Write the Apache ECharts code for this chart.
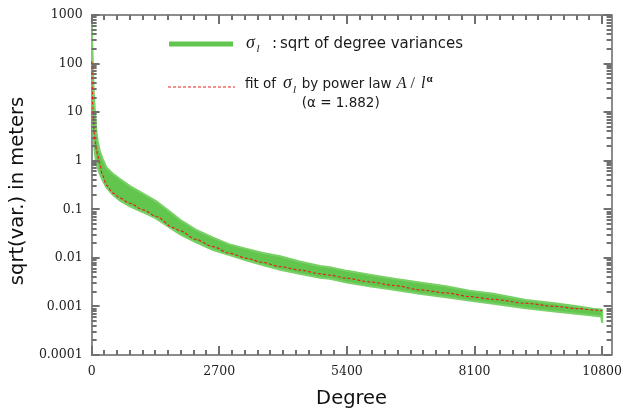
<!DOCTYPE html>
<html>
<head>
<meta charset="utf-8">
<script src="https://cdn.jsdelivr.net/npm/echarts@6/dist/echarts.min.js"></script>
<style>html,body{margin:0;padding:0;background:#fff}#c{width:625px;height:417px}</style>
</head>
<body>
<div id="c"></div>
<script>
// ---- data ----
const degrees = [2, 10, 25, 45, 70, 100, 130, 170, 230, 316, 450, 600, 810, 1090, 1370, 1720, 1880, 2200, 2570, 2900, 3280, 3600, 3990, 4400, 4830, 5040, 5400, 5880, 6400, 6940, 7500, 7990, 8500, 9190, 9800, 10300, 10600, 10780, 10800];
const fitValues = [110, 40, 12, 4.5, 2.5, 1.7, 1.25, 0.88, 0.5, 0.31, 0.215, 0.17, 0.133, 0.097, 0.071, 0.042, 0.036, 0.024, 0.017, 0.0125, 0.0098, 0.0081, 0.0066, 0.0056, 0.0047, 0.0044, 0.0038, 0.0032, 0.0027, 0.0022, 0.0019, 0.0016, 0.0014, 0.00116, 0.001, 0.0009, 0.00085, 0.00082, 0.00081];
const sigmaUpper = [700, 300, 100, 25, 10, 4, 2.5, 1.6, 1.1, 0.72, 0.54, 0.42, 0.3, 0.21, 0.145, 0.08, 0.06, 0.038, 0.026, 0.0192, 0.0153, 0.0128, 0.0108, 0.0084, 0.0068, 0.0064, 0.0054, 0.0045, 0.0037, 0.0031, 0.0026, 0.0021, 0.00182, 0.00136, 0.00116, 0.001, 0.0009, 0.00087, 0.00085];
const sigmaLower = [150, 30, 6, 2.5, 1.4, 0.9, 0.7, 0.55, 0.4, 0.28, 0.2, 0.15, 0.115, 0.087, 0.064, 0.038, 0.03, 0.021, 0.0145, 0.0115, 0.0088, 0.0072, 0.0057, 0.0047, 0.0039, 0.0037, 0.0031, 0.0026, 0.0022, 0.00182, 0.00154, 0.00132, 0.00114, 0.00092, 0.00079, 0.0007, 0.00065, 0.00062, 0.00046];
const xTickLabels = ['0', '2700', '5400', '8100', '10800'];
const xMajorTicks = [0, 2700, 5400, 8100, 10800];
const xMinorTicks = [];
for (let v = 270; v < 10800; v += 270) { if (v % 2700 !== 0) xMinorTicks.push(v); }
const yTickLabels = ['0.0001', '0.001', '0.01', '0.1', '1', '10', '100', '1000'];
const yMajorTicks = [0.0001, 0.001, 0.01, 0.1, 1, 10, 100, 1000];
const yMinorTicks = [];
for (let e = -4; e < 3; e++) { for (let m = 2; m <= 9; m++) yMinorTicks.push(+(m * Math.pow(10, e)).toPrecision(3)); }

const X_MIN = 0, X_MAX = 11000, Y_MIN = 0.0001, Y_MAX = 1000;
const GREEN = '#62c64e';
const RED = '#e4241c';
const AXC = '#666666';
const TICKC = '#707070';

function yLabel(v) {
  const i = Math.round(Math.log10(v)) + 4;
  return yTickLabels[i] !== undefined ? yTickLabels[i] : '';
}
function xLabel(v) {
  const i = xMajorTicks.indexOf(v);
  return i >= 0 ? xTickLabels[i] : '';
}

const bandData = degrees.map((d, i) => [d, sigmaUpper[i], sigmaLower[i]]);
const fitData = degrees.map((d, i) => [d, fitValues[i]]);
const xTickData = xMajorTicks.map(v => [v, 1, 9]).concat(xMinorTicks.map(v => [v, 1, 5]));
const yTickData = yMajorTicks.map(v => [100, v, 8]).concat(yMinorTicks.map(v => [100, v, 5]));

function txt(x, y, text, font, size, opts) {
  return {
    type: 'text', x: x, y: y, silent: true,
    style: Object.assign({ text: text, fontFamily: font, fontSize: size, fill: '#1a1a1a', align: 'left', verticalAlign: 'middle' }, opts || {})
  };
}
function tickLine(x1, y1, x2, y2) {
  return { type: 'line', shape: { x1: x1, y1: y1, x2: x2, y2: y2 }, style: { stroke: TICKC, lineWidth: 2 } };
}

const chart = echarts.init(document.getElementById('c'), null, { renderer: 'canvas' });
chart.setOption({
  animation: false,
  backgroundColor: '#fff',
  grid: { left: 91, right: 12, top: 15, bottom: 62, containLabel: false },
  xAxis: [
    {
      type: 'value', min: X_MIN, max: X_MAX, interval: 2700, position: 'bottom',
      axisLine: { show: true, onZero: false, lineStyle: { color: AXC, width: 1.5 } },
      axisTick: { show: false },
      axisLabel: { show: true, margin: 10, color: '#222', fontFamily: 'DejaVu Serif', fontSize: 12.5, formatter: xLabel },
      splitLine: { show: false },
      name: 'Degree', nameLocation: 'middle', nameGap: 34,
      nameTextStyle: { fontFamily: 'DejaVu Sans', fontSize: 19.5, color: '#111' }
    },
    {
      type: 'value', min: X_MIN, max: X_MAX, position: 'top',
      axisLine: { show: true, onZero: false, lineStyle: { color: AXC, width: 1.5 } },
      axisTick: { show: false }, axisLabel: { show: false }, splitLine: { show: false }
    }
  ],
  yAxis: [
    {
      type: 'log', logBase: 10, min: Y_MIN, max: Y_MAX, interval: 1, position: 'left',
      axisLine: { show: true, onZero: false, lineStyle: { color: AXC, width: 1.5 } },
      axisTick: { show: false },
      axisLabel: { show: true, margin: 9, color: '#222', fontFamily: 'DejaVu Serif', fontSize: 12.5, formatter: yLabel },
      splitLine: { show: false },
      name: 'sqrt(var.) in meters', nameLocation: 'middle', nameGap: 62,
      nameTextStyle: { fontFamily: 'DejaVu Sans', fontSize: 19.5, color: '#111', padding: [0, 12, 0, 0] }
    },
    {
      type: 'log', logBase: 10, min: Y_MIN, max: Y_MAX, position: 'right',
      axisLine: { show: true, onZero: false, lineStyle: { color: AXC, width: 1.5 } },
      axisTick: { show: false }, axisLabel: { show: false }, splitLine: { show: false }
    }
  ],
  series: [
    {
      type: 'custom', xAxisIndex: 0, yAxisIndex: 0, clip: true,
      data: bandData,
      encode: { x: 0, y: [1, 2] },
      renderItem: function (params, api) {
        if (params.dataIndex !== 0) return null;
        const pts = [];
        for (let i = 0; i < bandData.length; i++) pts.push(api.coord([bandData[i][0], bandData[i][1]]));
        for (let i = bandData.length - 1; i >= 0; i--) pts.push(api.coord([bandData[i][0], bandData[i][2]]));
        return { type: 'polygon', shape: { points: pts }, style: { fill: GREEN, stroke: '#79d066', lineWidth: 2 } };
      }
    },
    {
      type: 'line', xAxisIndex: 0, yAxisIndex: 0,
      data: fitData, showSymbol: false, smooth: 0.3, smoothMonotone: 'x',
      lineStyle: { color: RED, width: 1.2, type: [3, 2] }
    },
    {
      // x-axis ticks (bottom and top), placed through the axis scale
      type: 'custom', xAxisIndex: 0, yAxisIndex: 0,
      data: xTickData, encode: { x: 0, y: 1 },
      renderItem: function (params, api) {
        const v = api.value(0), len = api.value(2);
        const b = api.coord([v, Y_MIN]), t = api.coord([v, Y_MAX]);
        const x = Math.round(b[0]);
        return { type: 'group', children: [
          tickLine(x, b[1], x, b[1] - len),
          tickLine(x, t[1], x, t[1] + len)
        ] };
      }
    },
    {
      // y-axis ticks (left and right), placed through the log axis scale
      type: 'custom', xAxisIndex: 0, yAxisIndex: 0,
      data: yTickData, encode: { x: 0, y: 1 },
      renderItem: function (params, api) {
        const v = api.value(1), len = api.value(2);
        const l = api.coord([X_MIN, v]), r = api.coord([X_MAX, v]);
        const y = Math.round(l[1]);
        return { type: 'group', children: [
          tickLine(l[0], y, l[0] + len, y),
          tickLine(r[0], y, r[0] - len, y)
        ] };
      }
    }
  ],
  graphic: [
    { type: 'line', silent: true, shape: { x1: 169, y1: 44, x2: 233, y2: 44 }, style: { stroke: GREEN, lineWidth: 5 } },
    txt(246, 43.2, 'σ', 'Liberation Serif', 18, { fontStyle: 'italic' }),
    txt(256.5, 49.6, 'l', 'Liberation Serif', 11, { fontStyle: 'italic' }),
    txt(272, 44.1, ':', 'DejaVu Sans', 15),
    txt(280, 44.1, 'sqrt of degree variances', 'DejaVu Sans', 15),
    { type: 'line', silent: true, shape: { x1: 168, y1: 87, x2: 235, y2: 87 }, style: { stroke: RED, lineWidth: 1, lineDash: [3, 2] } },
    txt(245, 84.6, 'fit of', 'DejaVu Sans', 13.5),
    txt(283, 83.2, 'σ', 'Liberation Serif', 18, { fontStyle: 'italic' }),
    txt(293, 90.2, 'l', 'Liberation Serif', 11, { fontStyle: 'italic' }),
    txt(301.7, 84.6, 'by power law', 'DejaVu Sans', 13.5),
    txt(396.7, 83.9, 'A', 'Liberation Serif', 16, { fontStyle: 'italic' }),
    txt(410.5, 83.9, '/', 'Liberation Serif', 16),
    txt(421, 83.9, 'l', 'Liberation Serif', 16, { fontStyle: 'italic' }),
    txt(426.5, 79.6, 'α', 'Liberation Serif', 11, { fontWeight: 'bold' }),
    txt(301.7, 103, '(α = 1.882)', 'DejaVu Sans', 13.5)
  ]
});
</script>
</body>
</html>
